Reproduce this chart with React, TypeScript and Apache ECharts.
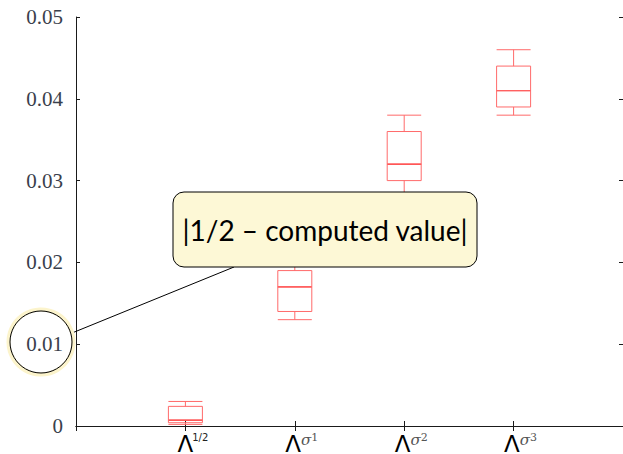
import React, { useEffect, useRef } from "react";
import * as echarts from "echarts";

// ---- data ----
const categoryKeys = ["", "half", "s1", "s2", "s3", ""];
const supLabels = ["", "1/2", "σ1", "σ2", "σ3", ""];
const boxIndex = [1, 2, 3, 4];
const boxMin = [0.0002, 0.013, 0.028, 0.038];
const boxQ1 = [0.0004, 0.014, 0.03, 0.039];
const boxMedian = [0.0007, 0.017, 0.032, 0.041];
const boxQ3 = [0.0024, 0.019, 0.036, 0.044];
const boxMax = [0.003, 0.021, 0.038, 0.046];
const yTicks = [0, 0.01, 0.02, 0.03, 0.04, 0.05];
const annotationText = "|1/2 – computed value|";

export default function App() {
  const ref = useRef<HTMLDivElement>(null);
  useEffect(() => {
    document.body.style.margin = "0";
    if (!ref.current) return;
    const chart = echarts.init(ref.current, null, { renderer: "svg" });
    const boxData = boxIndex.map((ix, i) => [ix, boxMin[i], boxQ1[i], boxMedian[i], boxQ3[i], boxMax[i]]);
    const medData = boxIndex.map((ix, i) => [ix, boxMedian[i]]);
    const axisCol = "#1a1a1a";
    const labelFormatter = (v: string, idx: number) => {
      const sup = supLabels[idx];
      if (!sup) return "";
      if (sup === "1/2") return "{p|}{L|Λ}{h|1/2}";
      return "{p|}{L|Λ}{g|σ}{n|" + sup.slice(1) + "}";
    };
    chart.setOption({
      animation: false,
      grid: { left: 76, top: 17, width: 547, height: 409, containLabel: false, outerBoundsMode: "none" },
      xAxis: [
        {
          type: "category",
          data: categoryKeys,
          boundaryGap: false,
          position: "bottom",
          axisLine: { show: true, lineStyle: { color: axisCol, width: 1 } },
          axisTick: { show: true, inside: true, length: 5, lineStyle: { color: axisCol } },
          splitLine: { show: false },
          axisLabel: {
            show: true,
            interval: 0,
            margin: 6,
            hideOverlap: false,
            formatter: labelFormatter,
            rich: {
              p: { width: 14, fontSize: 10, lineHeight: 10, verticalAlign: "top" },
              L: { fontSize: 23, fontFamily: "DejaVu Sans", color: "#000", lineHeight: 18, verticalAlign: "top" },
              h: { width: 14, fontSize: 10, fontFamily: "DejaVu Sans", color: "#222", verticalAlign: "top", lineHeight: 12 },
              g: { fontSize: 15, fontFamily: "DejaVu Serif", fontStyle: "italic", color: "#555", verticalAlign: "top", lineHeight: 20 },
              n: { fontSize: 11, fontFamily: "DejaVu Serif", color: "#555", verticalAlign: "top", lineHeight: 23 },
            },
          },
        },
        {
          type: "category",
          data: categoryKeys,
          boundaryGap: false,
          position: "top",
          axisLine: { show: true, lineStyle: { color: axisCol, width: 1 } },
          axisTick: { show: true, inside: true, length: 5, lineStyle: { color: axisCol } },
          axisLabel: { show: false },
        },
      ],
      yAxis: [
        {
          type: "value",
          min: 0,
          max: 0.05,
          interval: 0.01,
          position: "left",
          axisLine: { show: true, lineStyle: { color: axisCol, width: 1 } },
          axisTick: { show: true, inside: true, length: 4, lineStyle: { color: axisCol } },
          splitLine: { show: false },
          axisLabel: {
            margin: 13,
            fontSize: 21,
            fontFamily: "Liberation Serif",
            color: "#3a3f4c",
            padding: [0, 0, 6, 0],
            formatter: (v: number) => {
              const t = yTicks.find((y) => Math.abs(y - v) < 1e-9);
              if (t === undefined) return "";
              return t === 0 ? "0" : t.toFixed(2);
            },
          },
        },
        {
          type: "value",
          min: 0,
          max: 0.05,
          interval: 0.01,
          position: "right",
          axisLine: { show: false },
          axisTick: { show: true, inside: true, length: 4, lineStyle: { color: axisCol } },
          splitLine: { show: false },
          axisLabel: { show: false },
        },
      ],
      series: [
        {
          type: "boxplot",
          xAxisIndex: 0,
          yAxisIndex: 0,
          encode: { x: 0, y: [1, 2, 3, 4, 5] },
          boxWidth: [34, 34],
          itemStyle: { color: "rgba(255,255,255,0)", borderColor: "#ff6a6a", borderWidth: 1 },
          data: boxData,
        },
        {
          type: "custom",
          xAxisIndex: 0,
          yAxisIndex: 0,
          encode: { x: 0, y: 1 },
          data: medData,
          renderItem: (params: any, api: any) => {
            const p = api.coord([api.value(0), api.value(1)]);
            return {
              type: "line",
              shape: { x1: p[0] - 17, y1: p[1], x2: p[0] + 17, y2: p[1] },
              style: { stroke: "#ff2020", lineWidth: 1.3 },
            };
          },
        },
      ],
      graphic: [
        {
          type: "line",
          z: 100,
          shape: { x1: 234, y1: 267, x2: 72, y2: 333 },
          style: { stroke: "#000", lineWidth: 1 },
        },
        {
          type: "circle",
          z: 100,
          shape: { cx: 41, cy: 342, r: 32.5 },
          style: { fill: "none", stroke: "#fcf4cc", lineWidth: 4 },
        },
        {
          type: "circle",
          z: 101,
          shape: { cx: 41, cy: 342, r: 31 },
          style: { fill: "none", stroke: "#000", lineWidth: 1 },
        },
        {
          type: "rect",
          z: 102,
          shape: { x: 173, y: 192, width: 304, height: 75, r: 11 },
          style: { fill: "#fdf8d6", stroke: "#000", lineWidth: 1 },
        },
        {
          type: "text",
          z: 103,
          x: 325,
          y: 230,
          style: {
            text: annotationText,
            fontSize: 28,
            fontFamily: "Lato",
            fill: "#000",
            align: "center",
            verticalAlign: "middle",
          },
        },
      ],
    });
    return () => chart.dispose();
  }, []);
  return <div ref={ref} style={{ width: 623, height: 454 }} />;
}
